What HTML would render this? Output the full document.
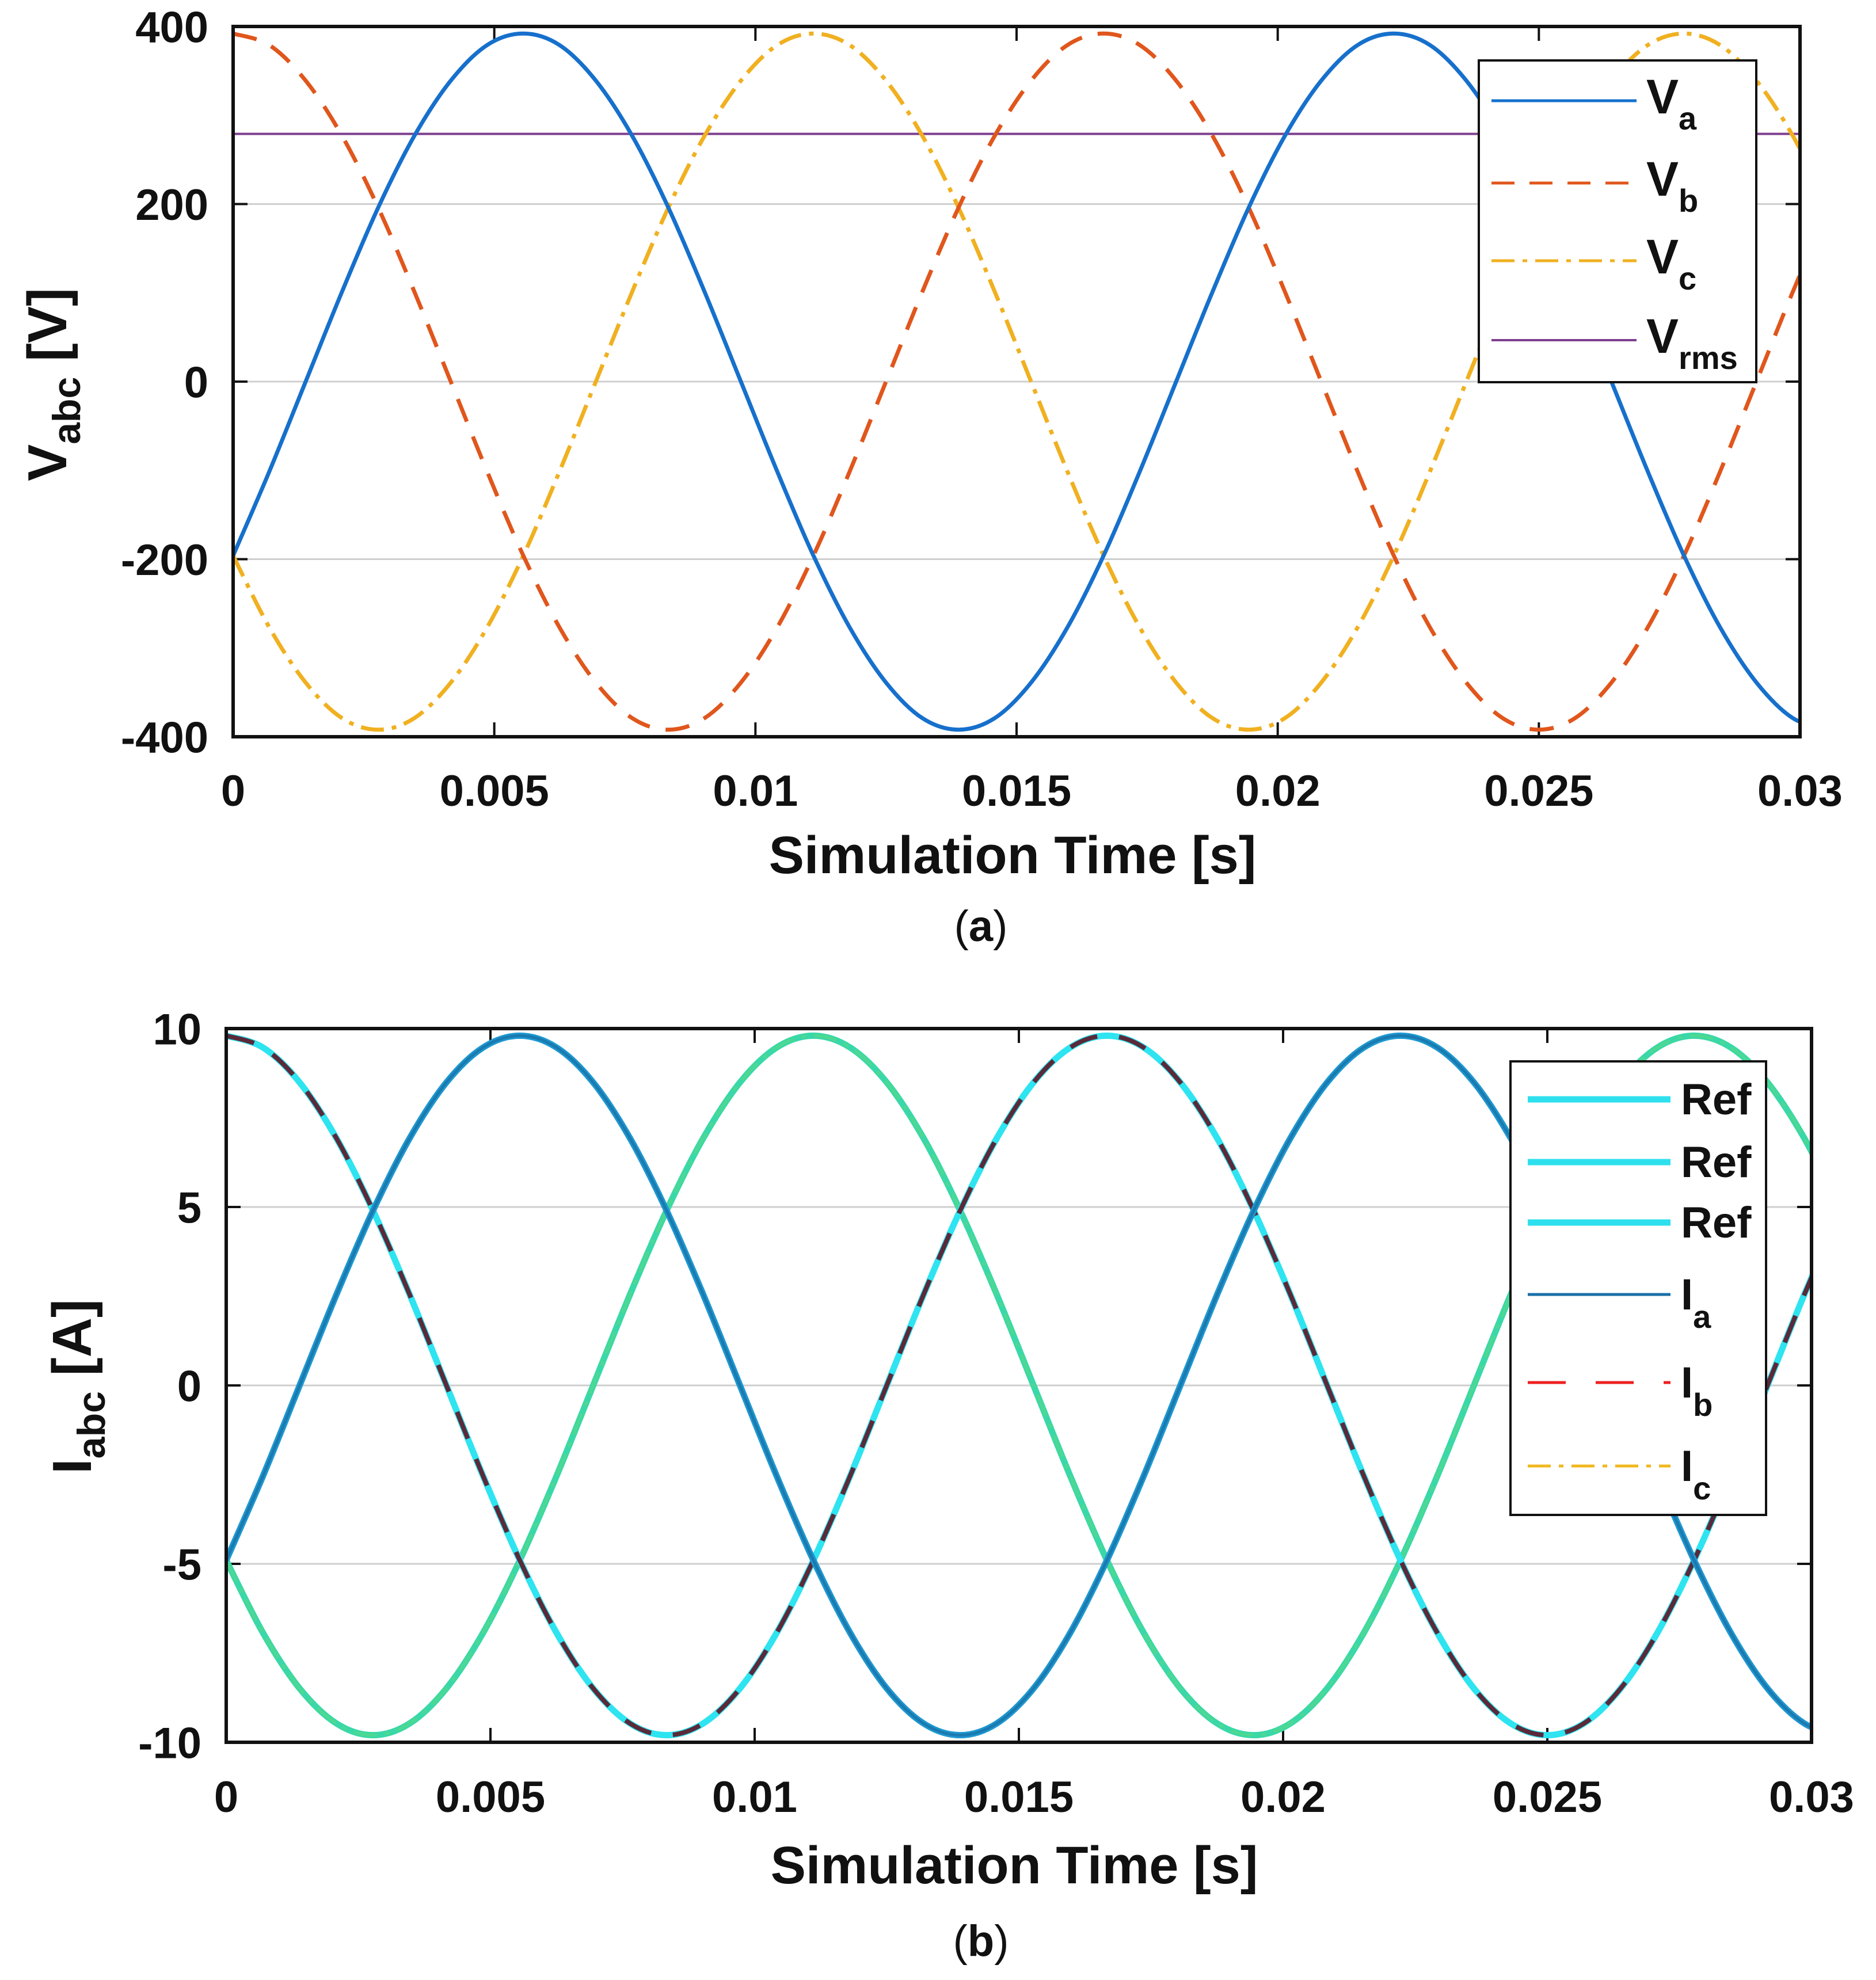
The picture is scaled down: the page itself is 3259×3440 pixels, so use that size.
<!DOCTYPE html>
<html><head><meta charset="utf-8">
<style>
html,body{margin:0;padding:0;background:#fff;}
svg{display:block;}
text{font-family:"Liberation Sans",Arial,sans-serif;fill:#111;}
</style></head>
<body>
<svg id="fig" width="3259" height="3440" viewBox="0 0 3259 3440" xmlns="http://www.w3.org/2000/svg">
<defs>
<clipPath id="clipA"><rect x="405" y="46" width="2722" height="1234"/></clipPath>
<clipPath id="clipB"><rect x="393" y="1787" width="2754" height="1240"/></clipPath>
</defs>
<g id="plotA"></g>
<g id="plotB"></g>
<text x="1704" y="1635" font-family="Liberation Serif" font-size="76" text-anchor="middle">(<tspan font-weight="bold">a</tspan>)</text>
<text x="1704" y="3398" font-family="Liberation Serif" font-size="76" text-anchor="middle">(<tspan font-weight="bold">b</tspan>)</text>
</svg>
<script>
// ---- data: sample time step (s) and sampled series ----
const dt = 1/1440;
const xTicks = [0, 0.005, 0.01, 0.015, 0.02, 0.025, 0.03];
const xTickLabels = ["0","0.005","0.01","0.015","0.02","0.025","0.03"];
const vTicks = [400, 200, 0, -200, -400];
const vTickLabels = ["400","200","0","-200","-400"];
const iTicks = [10, 5, 0, -5, -10];
const iTickLabels = ["10","5","0","-5","-10"];
const Va = [-196,-101,0,101,196,277,339,379,392,379,339,277,196,101,0,-101,-196,-277,-339,-379,-392,-379,-339,-277,-196,-101,0,101,196,277,339,379,392,379,339,277,196,101,0,-101,-196,-277,-339,-379,-392];
const Vb = [392,379,339,277,196,101,0,-101,-196,-277,-339,-379,-392,-379,-339,-277,-196,-101,0,101,196,277,339,379,392,379,339,277,196,101,0,-101,-196,-277,-339,-379,-392,-379,-339,-277,-196,-101,0,101,196];
const Vc = [-196,-277,-339,-379,-392,-379,-339,-277,-196,-101,0,101,196,277,339,379,392,379,339,277,196,101,0,-101,-196,-277,-339,-379,-392,-379,-339,-277,-196,-101,0,101,196,277,339,379,392,379,339,277,196];
const VrmsT = [0, 0.03];
const Vrms = [279, 279];
const Ia = [-4.9,-2.54,0,2.54,4.9,6.93,8.49,9.47,9.8,9.47,8.49,6.93,4.9,2.54,0,-2.54,-4.9,-6.93,-8.49,-9.47,-9.8,-9.47,-8.49,-6.93,-4.9,-2.54,0,2.54,4.9,6.93,8.49,9.47,9.8,9.47,8.49,6.93,4.9,2.54,0,-2.54,-4.9,-6.93,-8.49,-9.47,-9.8];
const Ib = [9.8,9.47,8.49,6.93,4.9,2.54,0,-2.54,-4.9,-6.93,-8.49,-9.47,-9.8,-9.47,-8.49,-6.93,-4.9,-2.54,0,2.54,4.9,6.93,8.49,9.47,9.8,9.47,8.49,6.93,4.9,2.54,0,-2.54,-4.9,-6.93,-8.49,-9.47,-9.8,-9.47,-8.49,-6.93,-4.9,-2.54,0,2.54,4.9];
const Ic = [-4.9,-6.93,-8.49,-9.47,-9.8,-9.47,-8.49,-6.93,-4.9,-2.54,0,2.54,4.9,6.93,8.49,9.47,9.8,9.47,8.49,6.93,4.9,2.54,0,-2.54,-4.9,-6.93,-8.49,-9.47,-9.8,-9.47,-8.49,-6.93,-4.9,-2.54,0,2.54,4.9,6.93,8.49,9.47,9.8,9.47,8.49,6.93,4.9];

const NS = "http://www.w3.org/2000/svg";
function mk(parent, tag, attrs){ const e=document.createElementNS(NS,tag); for(const k in attrs) e.setAttribute(k,attrs[k]); parent.appendChild(e); return e; }

function smoothPath(pts){
  let d = "M"+pts[0][0].toFixed(1)+","+pts[0][1].toFixed(1);
  for(let i=0;i<pts.length-1;i++){
    const p0=pts[Math.max(i-1,0)], p1=pts[i], p2=pts[i+1], p3=pts[Math.min(i+2,pts.length-1)];
    const c1=[p1[0]+(p2[0]-p0[0])/6, p1[1]+(p2[1]-p0[1])/6];
    const c2=[p2[0]-(p3[0]-p1[0])/6, p2[1]-(p3[1]-p1[1])/6];
    d += " C"+c1[0].toFixed(1)+","+c1[1].toFixed(1)+" "+c2[0].toFixed(1)+","+c2[1].toFixed(1)+" "+p2[0].toFixed(1)+","+p2[1].toFixed(1);
  }
  return d;
}

function axes(g, box, yMin, yMax, yT, yTL, fs, tickLabelX, xLabelY){
  const sx = t => box.x0 + (t-0)/(0.03)*(box.x1-box.x0);
  const sy = v => box.y1 - (v-yMin)/(yMax-yMin)*(box.y1-box.y0);
  yT.forEach((v,i)=>{
    const y=sy(v);
    if(v!==yMax && v!==yMin){
      const gl=mk(g,"line",{x1:box.x0,x2:box.x1,y1:y,y2:y,stroke:"#cfcfcf","stroke-width":3});
      
      
    }
    mk(g,"line",{x1:box.x0,x2:box.x0+25,y1:y,y2:y,stroke:"#111","stroke-width":4});
    mk(g,"line",{x1:box.x1,x2:box.x1-25,y1:y,y2:y,stroke:"#111","stroke-width":4});
    const t=mk(g,"text",{x:tickLabelX,y:y+fs*0.36,"font-size":fs,"font-weight":"bold","text-anchor":"end"});
    t.textContent=yTL[i];
    
    
  });
  xTicks.forEach((v,i)=>{
    const x=sx(v);
    mk(g,"line",{x1:x,x2:x,y1:box.y1,y2:box.y1-25,stroke:"#111","stroke-width":4});
    mk(g,"line",{x1:x,x2:x,y1:box.y0,y2:box.y0+25,stroke:"#111","stroke-width":4});
    const t=mk(g,"text",{x:x,y:xLabelY,"font-size":fs,"font-weight":"bold","text-anchor":"middle"});
    t.textContent=xTickLabels[i];
    
    
  });
  return {sx,sy};
}

function frame(g, box){
  const r=mk(g,"rect",{x:box.x0,y:box.y0,width:box.x1-box.x0,height:box.y1-box.y0,fill:"none",stroke:"#111","stroke-width":6});
  
  
}

function series(g, clip, ts, vals, sx, sy, style, name){
  const pts = vals.map((v,i)=>[sx(ts?ts[i]:i*dt), sy(v)]);
  const p = mk(g,"path",Object.assign({d:smoothPath(pts),fill:"none","clip-path":clip,"stroke-linecap":"butt","stroke-linejoin":"round"},style));
  
  
  return p;
}

// ---------- plot A ----------
const gA=document.getElementById("plotA");
const boxA={x0:405,x1:3127,y0:46,y1:1280};
mk(gA,"rect",{x:boxA.x0,y:boxA.y0,width:boxA.x1-boxA.x0,height:boxA.y1-boxA.y0,fill:"#fff"});
const A=axes(gA,boxA,-400,400,vTicks,vTickLabels,76,362,1400);
series(gA,"url(#clipA)",VrmsT,Vrms,A.sx,A.sy,{stroke:"#7e3f8e","stroke-width":4},"vrms-line");
series(gA,"url(#clipA)",null,Vc,A.sx,A.sy,{stroke:"#f0b020","stroke-width":7,"stroke-dasharray":"40 14 8 14"},"vc-line");
series(gA,"url(#clipA)",null,Vb,A.sx,A.sy,{stroke:"#e0561c","stroke-width":7,"stroke-dasharray":"42 28"},"vb-line");
series(gA,"url(#clipA)",null,Va,A.sx,A.sy,{stroke:"#1670cc","stroke-width":7},"va-line");
frame(gA,boxA);
// legend A
const legA=mk(gA,"g",{});


mk(legA,"rect",{x:2569,y:105,width:482,height:559,fill:"#fff",stroke:"#111","stroke-width":4});
const legAItems=[["a",{stroke:"#1670cc","stroke-width":5}],["b",{stroke:"#e0561c","stroke-width":5,"stroke-dasharray":"40 26"}],["c",{stroke:"#f0b020","stroke-width":5,"stroke-dasharray":"40 14 8 14"}],["rms",{stroke:"#7e3f8e","stroke-width":4}]];
const legAY=[175,318,453,591];
legAItems.forEach((it,i)=>{
  const y=legAY[i];
  const l=mk(legA,"line",Object.assign({x1:2591,x2:2843,y1:y,y2:y},it[1]));
  
  
  const t=mk(legA,"text",{x:2860,y:y+22,"font-size":84,"font-weight":"bold"});
  t.innerHTML='V<tspan font-size="56" dy="28">'+it[0]+'</tspan>';
  
  
});
let tA=mk(gA,"text",{x:1759,y:1517,"font-size":92,"font-weight":"bold","text-anchor":"middle"});
tA.textContent="Simulation Time [s]";


let yA=mk(gA,"text",{x:0,y:0,"font-size":96,"font-weight":"bold","text-anchor":"middle",transform:"translate(115,668) rotate(-90)"});
yA.innerHTML='V<tspan font-size="68" dy="24">abc</tspan><tspan dy="-24"> [V]</tspan>';



// ---------- plot B ----------
const gB=document.getElementById("plotB");
const boxB={x0:393,x1:3147,y0:1787,y1:3027};
mk(gB,"rect",{x:boxB.x0,y:boxB.y0,width:boxB.x1-boxB.x0,height:boxB.y1-boxB.y0,fill:"#fff"});
const B=axes(gB,boxB,-10,10,iTicks,iTickLabels,76,350,3148);
series(gB,"url(#clipB)",null,Ic,B.sx,B.sy,{stroke:"#3ad8a8","stroke-width":11},"ref-c-line");
series(gB,"url(#clipB)",null,Ic,B.sx,B.sy,{stroke:"#4ed890","stroke-width":5,"stroke-dasharray":"40 14 8 14"},"ic-line");
series(gB,"url(#clipB)",null,Ib,B.sx,B.sy,{stroke:"#2ee4f0","stroke-width":11},"ref-b-line");
series(gB,"url(#clipB)",null,Ib,B.sx,B.sy,{stroke:"#5a2a3a","stroke-width":8,"stroke-dasharray":"50 38"},"ib-line");
series(gB,"url(#clipB)",null,Ia,B.sx,B.sy,{stroke:"#1e98d0","stroke-width":11},"ref-a-line");
series(gB,"url(#clipB)",null,Ia,B.sx,B.sy,{stroke:"#1a7ab0","stroke-width":5},"ia-line");
frame(gB,boxB);
const legB=mk(gB,"g",{});


mk(legB,"rect",{x:2624,y:1844,width:444,height:788,fill:"#fff",stroke:"#111","stroke-width":4});
const legBItems=[["Ref","",{stroke:"#2ee0ee","stroke-width":11}],["Ref","",{stroke:"#2ee0ee","stroke-width":11}],["Ref","",{stroke:"#2ee0ee","stroke-width":11}],["I","a",{stroke:"#1a6fa8","stroke-width":5}],["I","b",{stroke:"#ee2020","stroke-width":5,"stroke-dasharray":"66 52"}],["I","c",{stroke:"#f0b820","stroke-width":5,"stroke-dasharray":"40 14 8 14"}]];
const legBY=[1910,2019,2124,2249,2402,2547];
legBItems.forEach((it,i)=>{
  const y=legBY[i];
  const l=mk(legB,"line",Object.assign({x1:2654,x2:2902,y1:y,y2:y},it[2]));
  
  
  const t=mk(legB,"text",{x:2920,y:y+26,"font-size":76,"font-weight":"bold"});
  t.innerHTML=it[0]+(it[1]?'<tspan font-size="56" dy="32">'+it[1]+'</tspan>':'');
  
  
});
let tB=mk(gB,"text",{x:1762,y:3272,"font-size":92,"font-weight":"bold","text-anchor":"middle"});
tB.textContent="Simulation Time [s]";


let yB=mk(gB,"text",{x:0,y:0,"font-size":96,"font-weight":"bold","text-anchor":"middle",transform:"translate(158,2409) rotate(-90)"});
yB.innerHTML='I<tspan font-size="68" dy="24">abc</tspan><tspan dy="-24"> [A]</tspan>';


</script>
</body></html>
